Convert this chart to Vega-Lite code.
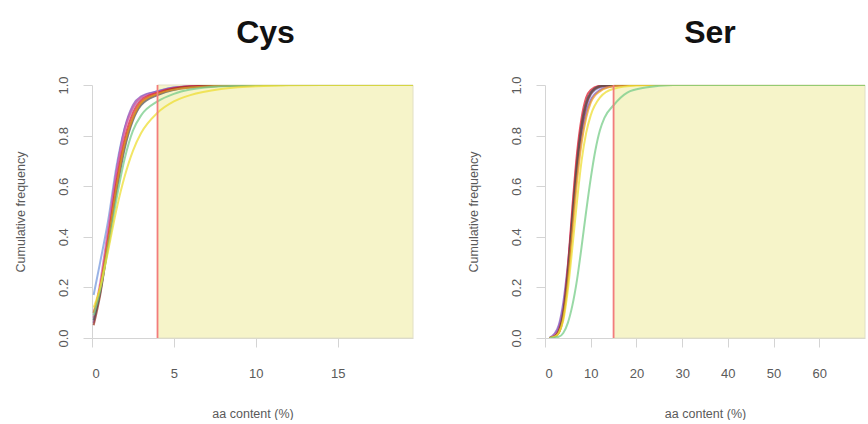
{
  "$schema": "https://vega.github.io/schema/vega-lite/v6.json",
  "padding": {"left": 14, "top": 16, "right": 0, "bottom": 0},
  "background": "white",
  "config": {
    "view": {"stroke": null},
    "font": "Liberation Sans",
    "axis": {
      "grid": false,
      "domainColor": "#d4d4d4",
      "tickColor": "#d4d4d4",
      "tickSize": 9,
      "labelColor": "#5a5a5a",
      "titleColor": "#5a5a5a",
      "labelFont": "Liberation Sans",
      "titleFont": "Liberation Sans",
      "labelFontSize": 13,
      "titleFontSize": 12.5,
      "titleFontWeight": "normal"
    },
    "title": {"font": "Liberation Sans", "fontSize": 32, "fontWeight": "bold", "color": "#111111"},
    "concat": {"spacing": 53}
  },
  "datasets": {
    "cys": [
      {"s": "blue", "x": 0.1, "y": 0.17}, {"s": "blue", "x": 0.5, "y": 0.3}, {"s": "blue", "x": 1, "y": 0.47}, {"s": "blue", "x": 1.5, "y": 0.68}, {"s": "blue", "x": 2, "y": 0.83}, {"s": "blue", "x": 2.5, "y": 0.91}, {"s": "blue", "x": 3, "y": 0.95}, {"s": "blue", "x": 4, "y": 0.975}, {"s": "blue", "x": 5, "y": 0.99}, {"s": "blue", "x": 7, "y": 0.998}, {"s": "blue", "x": 10, "y": 1}, {"s": "blue", "x": 19.6, "y": 1},
      {"s": "purple", "x": 0.1, "y": 0.06}, {"s": "purple", "x": 0.5, "y": 0.2}, {"s": "purple", "x": 1, "y": 0.42}, {"s": "purple", "x": 1.5, "y": 0.66}, {"s": "purple", "x": 2, "y": 0.83}, {"s": "purple", "x": 2.5, "y": 0.92}, {"s": "purple", "x": 3, "y": 0.955}, {"s": "purple", "x": 4, "y": 0.975}, {"s": "purple", "x": 5, "y": 0.99}, {"s": "purple", "x": 7, "y": 0.998}, {"s": "purple", "x": 10, "y": 1}, {"s": "purple", "x": 19.6, "y": 1},
      {"s": "pink", "x": 0.1, "y": 0.08}, {"s": "pink", "x": 0.5, "y": 0.22}, {"s": "pink", "x": 1, "y": 0.44}, {"s": "pink", "x": 1.5, "y": 0.66}, {"s": "pink", "x": 2, "y": 0.82}, {"s": "pink", "x": 2.5, "y": 0.91}, {"s": "pink", "x": 3, "y": 0.95}, {"s": "pink", "x": 4, "y": 0.97}, {"s": "pink", "x": 6, "y": 0.995}, {"s": "pink", "x": 10, "y": 1}, {"s": "pink", "x": 19.6, "y": 1},
      {"s": "red", "x": 0.1, "y": 0.1}, {"s": "red", "x": 0.5, "y": 0.2}, {"s": "red", "x": 1, "y": 0.4}, {"s": "red", "x": 1.5, "y": 0.62}, {"s": "red", "x": 2, "y": 0.79}, {"s": "red", "x": 2.5, "y": 0.89}, {"s": "red", "x": 3, "y": 0.94}, {"s": "red", "x": 4, "y": 0.97}, {"s": "red", "x": 6, "y": 0.995}, {"s": "red", "x": 10, "y": 1}, {"s": "red", "x": 19.6, "y": 1},
      {"s": "brown", "x": 0.1, "y": 0.05}, {"s": "brown", "x": 0.5, "y": 0.17}, {"s": "brown", "x": 1, "y": 0.38}, {"s": "brown", "x": 1.5, "y": 0.6}, {"s": "brown", "x": 2, "y": 0.77}, {"s": "brown", "x": 2.5, "y": 0.87}, {"s": "brown", "x": 3, "y": 0.93}, {"s": "brown", "x": 4, "y": 0.965}, {"s": "brown", "x": 6, "y": 0.993}, {"s": "brown", "x": 10, "y": 1}, {"s": "brown", "x": 19.6, "y": 1},
      {"s": "dark", "x": 0.1, "y": 0.07}, {"s": "dark", "x": 0.5, "y": 0.18}, {"s": "dark", "x": 1, "y": 0.38}, {"s": "dark", "x": 1.5, "y": 0.58}, {"s": "dark", "x": 2, "y": 0.75}, {"s": "dark", "x": 2.5, "y": 0.86}, {"s": "dark", "x": 3, "y": 0.92}, {"s": "dark", "x": 4, "y": 0.96}, {"s": "dark", "x": 6, "y": 0.99}, {"s": "dark", "x": 10, "y": 1}, {"s": "dark", "x": 19.6, "y": 1},
      {"s": "orange", "x": 0.1, "y": 0.1}, {"s": "orange", "x": 0.5, "y": 0.2}, {"s": "orange", "x": 1, "y": 0.39}, {"s": "orange", "x": 1.5, "y": 0.6}, {"s": "orange", "x": 2, "y": 0.77}, {"s": "orange", "x": 2.5, "y": 0.87}, {"s": "orange", "x": 3, "y": 0.93}, {"s": "orange", "x": 4, "y": 0.965}, {"s": "orange", "x": 6, "y": 0.99}, {"s": "orange", "x": 10, "y": 1}, {"s": "orange", "x": 19.6, "y": 1},
      {"s": "green", "x": 0.1, "y": 0.09}, {"s": "green", "x": 0.5, "y": 0.19}, {"s": "green", "x": 1, "y": 0.36}, {"s": "green", "x": 1.5, "y": 0.55}, {"s": "green", "x": 2, "y": 0.71}, {"s": "green", "x": 2.5, "y": 0.82}, {"s": "green", "x": 3, "y": 0.88}, {"s": "green", "x": 4, "y": 0.935}, {"s": "green", "x": 5, "y": 0.965}, {"s": "green", "x": 6, "y": 0.982}, {"s": "green", "x": 8, "y": 0.995}, {"s": "green", "x": 12, "y": 1}, {"s": "green", "x": 19.6, "y": 1},
      {"s": "yellow", "x": 0.1, "y": 0.12}, {"s": "yellow", "x": 0.5, "y": 0.2}, {"s": "yellow", "x": 1, "y": 0.35}, {"s": "yellow", "x": 1.5, "y": 0.51}, {"s": "yellow", "x": 2, "y": 0.64}, {"s": "yellow", "x": 2.5, "y": 0.74}, {"s": "yellow", "x": 3, "y": 0.81}, {"s": "yellow", "x": 4, "y": 0.89}, {"s": "yellow", "x": 5, "y": 0.935}, {"s": "yellow", "x": 6, "y": 0.96}, {"s": "yellow", "x": 8, "y": 0.985}, {"s": "yellow", "x": 10, "y": 0.995}, {"s": "yellow", "x": 14, "y": 1}, {"s": "yellow", "x": 19.6, "y": 1}
    ],
    "ser": [
      {"s": "blue", "x": 1, "y": 0}, {"s": "blue", "x": 2, "y": 0.01}, {"s": "blue", "x": 3, "y": 0.04}, {"s": "blue", "x": 4, "y": 0.12}, {"s": "blue", "x": 5, "y": 0.27}, {"s": "blue", "x": 6, "y": 0.47}, {"s": "blue", "x": 7, "y": 0.66}, {"s": "blue", "x": 8, "y": 0.81}, {"s": "blue", "x": 9, "y": 0.91}, {"s": "blue", "x": 10, "y": 0.96}, {"s": "blue", "x": 11, "y": 0.98}, {"s": "blue", "x": 12, "y": 0.99}, {"s": "blue", "x": 14, "y": 0.998}, {"s": "blue", "x": 18, "y": 1}, {"s": "blue", "x": 70, "y": 1},
      {"s": "purple", "x": 1, "y": 0}, {"s": "purple", "x": 2, "y": 0.015}, {"s": "purple", "x": 3, "y": 0.05}, {"s": "purple", "x": 4, "y": 0.14}, {"s": "purple", "x": 5, "y": 0.29}, {"s": "purple", "x": 6, "y": 0.48}, {"s": "purple", "x": 7, "y": 0.66}, {"s": "purple", "x": 8, "y": 0.8}, {"s": "purple", "x": 9, "y": 0.89}, {"s": "purple", "x": 10, "y": 0.94}, {"s": "purple", "x": 12, "y": 0.98}, {"s": "purple", "x": 14, "y": 0.993}, {"s": "purple", "x": 18, "y": 1}, {"s": "purple", "x": 70, "y": 1},
      {"s": "pink", "x": 1, "y": 0}, {"s": "pink", "x": 2, "y": 0.01}, {"s": "pink", "x": 3, "y": 0.03}, {"s": "pink", "x": 4, "y": 0.1}, {"s": "pink", "x": 5, "y": 0.27}, {"s": "pink", "x": 6, "y": 0.5}, {"s": "pink", "x": 7, "y": 0.71}, {"s": "pink", "x": 8, "y": 0.85}, {"s": "pink", "x": 9, "y": 0.93}, {"s": "pink", "x": 10, "y": 0.97}, {"s": "pink", "x": 12, "y": 0.995}, {"s": "pink", "x": 15, "y": 1}, {"s": "pink", "x": 70, "y": 1},
      {"s": "red", "x": 1, "y": 0}, {"s": "red", "x": 2, "y": 0.005}, {"s": "red", "x": 3, "y": 0.03}, {"s": "red", "x": 4, "y": 0.1}, {"s": "red", "x": 5, "y": 0.28}, {"s": "red", "x": 6, "y": 0.52}, {"s": "red", "x": 7, "y": 0.73}, {"s": "red", "x": 8, "y": 0.87}, {"s": "red", "x": 9, "y": 0.95}, {"s": "red", "x": 10, "y": 0.98}, {"s": "red", "x": 12, "y": 0.997}, {"s": "red", "x": 15, "y": 1}, {"s": "red", "x": 70, "y": 1},
      {"s": "brown", "x": 1, "y": 0}, {"s": "brown", "x": 2, "y": 0.005}, {"s": "brown", "x": 3, "y": 0.02}, {"s": "brown", "x": 4, "y": 0.09}, {"s": "brown", "x": 5, "y": 0.25}, {"s": "brown", "x": 6, "y": 0.47}, {"s": "brown", "x": 7, "y": 0.68}, {"s": "brown", "x": 8, "y": 0.83}, {"s": "brown", "x": 9, "y": 0.92}, {"s": "brown", "x": 10, "y": 0.965}, {"s": "brown", "x": 12, "y": 0.993}, {"s": "brown", "x": 15, "y": 1}, {"s": "brown", "x": 70, "y": 1},
      {"s": "dark", "x": 1, "y": 0}, {"s": "dark", "x": 2, "y": 0.005}, {"s": "dark", "x": 3, "y": 0.025}, {"s": "dark", "x": 4, "y": 0.1}, {"s": "dark", "x": 5, "y": 0.26}, {"s": "dark", "x": 6, "y": 0.48}, {"s": "dark", "x": 7, "y": 0.69}, {"s": "dark", "x": 8, "y": 0.84}, {"s": "dark", "x": 9, "y": 0.93}, {"s": "dark", "x": 10, "y": 0.97}, {"s": "dark", "x": 12, "y": 0.995}, {"s": "dark", "x": 15, "y": 1}, {"s": "dark", "x": 70, "y": 1},
      {"s": "orange", "x": 1, "y": 0}, {"s": "orange", "x": 2, "y": 0.005}, {"s": "orange", "x": 3, "y": 0.02}, {"s": "orange", "x": 4, "y": 0.08}, {"s": "orange", "x": 5, "y": 0.22}, {"s": "orange", "x": 6, "y": 0.42}, {"s": "orange", "x": 7, "y": 0.62}, {"s": "orange", "x": 8, "y": 0.77}, {"s": "orange", "x": 9, "y": 0.87}, {"s": "orange", "x": 10, "y": 0.93}, {"s": "orange", "x": 12, "y": 0.975}, {"s": "orange", "x": 15, "y": 0.995}, {"s": "orange", "x": 20, "y": 1}, {"s": "orange", "x": 70, "y": 1},
      {"s": "yellow", "x": 1, "y": 0}, {"s": "yellow", "x": 2, "y": 0.004}, {"s": "yellow", "x": 3, "y": 0.02}, {"s": "yellow", "x": 4, "y": 0.07}, {"s": "yellow", "x": 5, "y": 0.19}, {"s": "yellow", "x": 6, "y": 0.36}, {"s": "yellow", "x": 7, "y": 0.54}, {"s": "yellow", "x": 8, "y": 0.7}, {"s": "yellow", "x": 9, "y": 0.81}, {"s": "yellow", "x": 10, "y": 0.88}, {"s": "yellow", "x": 12, "y": 0.95}, {"s": "yellow", "x": 15, "y": 0.985}, {"s": "yellow", "x": 20, "y": 0.998}, {"s": "yellow", "x": 25, "y": 1}, {"s": "yellow", "x": 70, "y": 1},
      {"s": "green", "x": 1, "y": 0}, {"s": "green", "x": 3, "y": 0.005}, {"s": "green", "x": 4, "y": 0.02}, {"s": "green", "x": 5, "y": 0.06}, {"s": "green", "x": 6, "y": 0.13}, {"s": "green", "x": 7, "y": 0.23}, {"s": "green", "x": 8, "y": 0.36}, {"s": "green", "x": 9, "y": 0.5}, {"s": "green", "x": 10, "y": 0.63}, {"s": "green", "x": 11, "y": 0.74}, {"s": "green", "x": 12, "y": 0.82}, {"s": "green", "x": 13, "y": 0.87}, {"s": "green", "x": 15, "y": 0.92}, {"s": "green", "x": 18, "y": 0.97}, {"s": "green", "x": 22, "y": 0.99}, {"s": "green", "x": 28, "y": 1}, {"s": "green", "x": 70, "y": 1}
    ]
  },
  "hconcat": [
    {
      "title": {"text": "Cys", "dx": 13, "offset": 26},
      "width": 321,
      "height": 253,
      "layer": [
        {
          "data": {"values": [{"x0": 4, "x1": 19.6, "y0": 0, "y1": 1}]},
          "mark": {"type": "rect", "fill": "#f6f4c9", "stroke": "#e2e0c4", "strokeWidth": 1},
          "encoding": {
            "x": {"field": "x0", "type": "quantitative", "scale": {"domain": [0, 19.6], "nice": false, "zero": false},
              "axis": {"values": [0, 5, 10, 15], "title": "aa content (%)", "labelPadding": 20, "titlePadding": 27}},
            "x2": {"field": "x1"},
            "y": {"field": "y0", "type": "quantitative", "scale": {"domain": [0, 1], "nice": false},
              "axis": {"values": [0, 0.2, 0.4, 0.6, 0.8, 1], "format": ".1f", "labelAngle": -90, "labelAlign": "center", "labelBaseline": "bottom", "labelPadding": 13, "title": "Cumulative frequency", "titlePadding": 30}},
            "y2": {"field": "y1"}
          }
        },
        {
          "data": {"name": "cys"},
          "mark": {"type": "line", "interpolate": "monotone", "strokeWidth": 2, "opacity": 0.75, "clip": true},
          "encoding": {
            "x": {"field": "x", "type": "quantitative"},
            "y": {"field": "y", "type": "quantitative"},
            "detail": {"field": "s"},
            "color": {"field": "s", "type": "nominal", "legend": null,
              "scale": {"domain": ["blue", "purple", "pink", "red", "brown", "dark", "orange", "yellow", "green"],
                        "range": ["#7799dd", "#8855bb", "#dd66aa", "#dd2233", "#993322", "#555555", "#ee9922", "#eedd33", "#77cc88"]}}
          }
        },
        {
          "data": {"values": [{"x": 4}]},
          "mark": {"type": "rule", "color": "#f27c7c", "strokeWidth": 1.8},
          "encoding": {"x": {"field": "x", "type": "quantitative"}}
        }
      ]
    },
    {
      "title": {"text": "Ser", "dx": 5, "offset": 26},
      "width": 320,
      "height": 253,
      "layer": [
        {
          "data": {"values": [{"x0": 15, "x1": 70, "y0": 0, "y1": 1}]},
          "mark": {"type": "rect", "fill": "#f6f4c9", "stroke": "#e2e0c4", "strokeWidth": 1},
          "encoding": {
            "x": {"field": "x0", "type": "quantitative", "scale": {"domain": [0, 70], "nice": false, "zero": false},
              "axis": {"values": [0, 10, 20, 30, 40, 50, 60], "title": "aa content (%)", "labelPadding": 20, "titlePadding": 27}},
            "x2": {"field": "x1"},
            "y": {"field": "y0", "type": "quantitative", "scale": {"domain": [0, 1], "nice": false},
              "axis": {"values": [0, 0.2, 0.4, 0.6, 0.8, 1], "format": ".1f", "labelAngle": -90, "labelAlign": "center", "labelBaseline": "bottom", "labelPadding": 13, "title": "Cumulative frequency", "titlePadding": 30}},
            "y2": {"field": "y1"}
          }
        },
        {
          "data": {"name": "ser"},
          "mark": {"type": "line", "interpolate": "monotone", "strokeWidth": 2, "opacity": 0.75, "clip": true},
          "encoding": {
            "x": {"field": "x", "type": "quantitative"},
            "y": {"field": "y", "type": "quantitative"},
            "detail": {"field": "s"},
            "color": {"field": "s", "type": "nominal", "legend": null,
              "scale": {"domain": ["blue", "purple", "pink", "red", "brown", "dark", "orange", "yellow", "green"],
                        "range": ["#7799dd", "#8855bb", "#dd66aa", "#dd2233", "#993322", "#555555", "#ee9922", "#eedd33", "#77cc88"]}}
          }
        },
        {
          "data": {"values": [{"x": 15}]},
          "mark": {"type": "rule", "color": "#f27c7c", "strokeWidth": 1.8},
          "encoding": {"x": {"field": "x", "type": "quantitative"}}
        }
      ]
    }
  ],
  "resolve": {"scale": {"x": "independent", "color": "shared"}}
}
